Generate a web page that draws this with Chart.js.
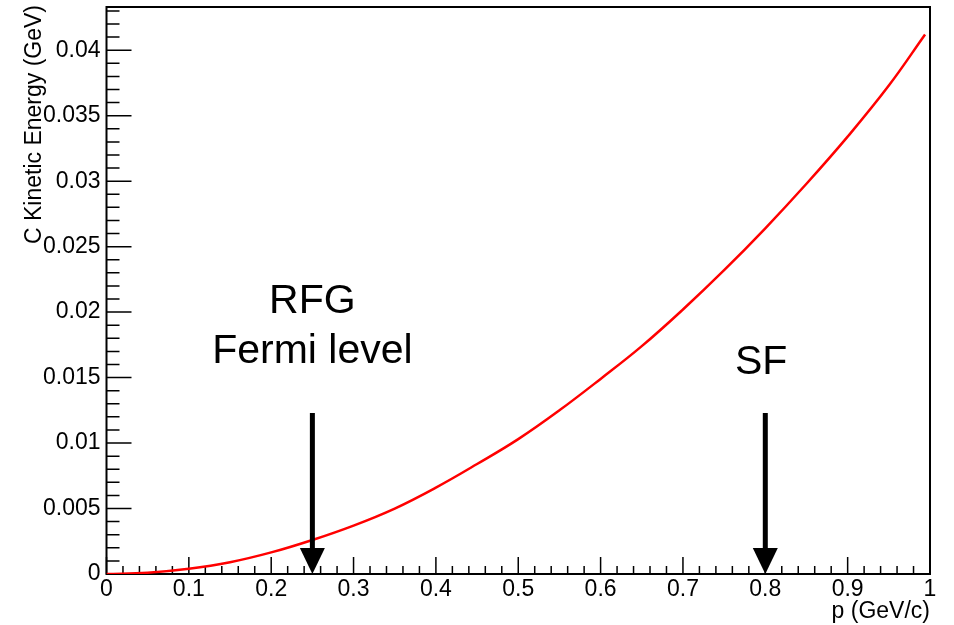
<!DOCTYPE html>
<html>
<head>
<meta charset="utf-8">
<script src="https://cdn.jsdelivr.net/npm/chart.js@4/dist/chart.umd.min.js"></script>
<style>
  html, body { margin: 0; padding: 0; background: #fff; }
  #wrap { width: 954px; height: 625px; }
</style>
</head>
<body>
<div id="wrap"><canvas id="keChart" width="954" height="625"></canvas></div>
<script>
// momentum p (GeV/c) and C kinetic energy (GeV)
var momentum = [0, 0.05, 0.1, 0.15, 0.2, 0.25, 0.3, 0.35, 0.4, 0.45, 0.5,
                0.55, 0.6, 0.65, 0.7, 0.75, 0.8, 0.85, 0.9, 0.95, 0.994];
var kineticEnergy = [0, 0.0001, 0.0004, 0.0009, 0.00165, 0.0026, 0.0037, 0.0050, 0.0066, 0.0084, 0.0103,
                     0.0125, 0.0149, 0.0174, 0.0202, 0.0232, 0.0264, 0.0298, 0.0334, 0.0373, 0.0412];

// arrows marking the two models
var arrowX = [0.25, 0.8];
var arrowTopY = 0.0123;
var arrowTipY = 0;

// annotation texts and their anchor (x centre, y baseline)
var noteTexts = ['RFG', 'Fermi level', 'SF'];
var noteX = [0.25, 0.25, 0.795];
var noteY = [0.0199, 0.0161, 0.0153];

var xTitle = 'p (GeV/c)';
var yTitle = 'C Kinetic Energy (GeV)';

var FONT = "'Liberation Sans', Arial, Helvetica, sans-serif";

function fmt(v) {
    if (Math.abs(v) < 1e-9) return '0';
    return String(parseFloat(v.toFixed(4)));
}

/**
 * ROOT style frame: inward ticks, box, arrows, labels and y title
 */
var rootFrame = {
    id: 'rootFrame',
    beforeDatasetsDraw: function(chart) {
        var ctx = chart.ctx, a = chart.chartArea;
        var x = chart.scales.x, y = chart.scales.y;
        ctx.save();
        ctx.strokeStyle = '#000';
        ctx.lineWidth = 1.5;
        ctx.beginPath();
        // x ticks every 0.02, major every 0.1
        for (var i = 0; i <= 50; i++) {
            var px = x.getPixelForValue(i * 0.02);
            var len = (i % 5 === 0) ? 17 : 8;
            ctx.moveTo(px, a.bottom);
            ctx.lineTo(px, a.bottom - len);
        }
        // y ticks every 0.001, major every 0.005
        for (var j = 0; j * 0.001 <= y.max + 1e-9; j++) {
            var py = y.getPixelForValue(j * 0.001);
            var l = (j % 5 === 0) ? 25 : 13;
            ctx.moveTo(a.left, py);
            ctx.lineTo(a.left + l, py);
        }
        ctx.stroke();
        ctx.lineWidth = 2;
        ctx.strokeRect(a.left, a.top, a.right - a.left, a.bottom - a.top);

        // y axis title, top aligned like ROOT
        ctx.font = '23px ' + FONT;
        ctx.fillStyle = '#000';
        ctx.translate(35, a.top - 2);
        ctx.rotate(-Math.PI / 2);
        ctx.textAlign = 'right';
        ctx.textBaseline = 'middle';
        ctx.fillText(yTitle, 0, 0);
        ctx.restore();
    },
    afterDatasetsDraw: function(chart) {
        var ctx = chart.ctx;
        var x = chart.scales.x, y = chart.scales.y;
        ctx.save();
        ctx.fillStyle = '#000';
        ctx.strokeStyle = '#000';
        arrowX.forEach(function(v) {
            var px = x.getPixelForValue(v);
            var top = y.getPixelForValue(arrowTopY);
            var tip = y.getPixelForValue(arrowTipY);
            ctx.lineWidth = 5;
            ctx.beginPath();
            ctx.moveTo(px, top);
            ctx.lineTo(px, tip - 20);
            ctx.stroke();
            ctx.beginPath();
            ctx.moveTo(px, tip);
            ctx.lineTo(px - 12.5, tip - 26);
            ctx.lineTo(px + 12.5, tip - 26);
            ctx.closePath();
            ctx.fill();
        });
        ctx.font = '41px ' + FONT;
        ctx.textAlign = 'center';
        ctx.textBaseline = 'alphabetic';
        noteTexts.forEach(function(t, k) {
            ctx.fillText(t, x.getPixelForValue(noteX[k]), y.getPixelForValue(noteY[k]));
        });
        ctx.restore();
    }
};

var labelFont = { family: FONT, size: 23 };

new Chart(document.getElementById('keChart'), {
    type: 'line',
    data: {
        datasets: [{
            data: momentum.map(function(p, i) { return { x: p, y: kineticEnergy[i] }; }),
            borderColor: 'rgb(255, 0, 0)',
            borderWidth: 2.5,
            pointRadius: 0,
            tension: 0.4,
            fill: false
        }]
    },
    options: {
        responsive: false,
        animation: false,
        layout: { padding: { top: 7, right: 24, bottom: 0, left: 0 } },
        plugins: {
            legend: { display: false },
            tooltip: { enabled: false }
        },
        scales: {
            x: {
                type: 'linear',
                min: 0,
                max: 1,
                grid: { display: false, drawTicks: false },
                border: { display: false },
                ticks: {
                    stepSize: 0.1,
                    includeBounds: false,
                    maxRotation: 0,
                    autoSkip: false,
                    padding: 2,
                    color: '#000',
                    font: labelFont,
                    callback: function(v) { return fmt(v); }
                },
                title: {
                    display: true,
                    text: xTitle,
                    align: 'end',
                    color: '#000',
                    font: labelFont,
                    padding: { top: 0, bottom: 0 }
                },
                afterFit: function(s) {
                    s.height = 51;
                    s.paddingLeft = 0;
                    s.paddingRight = 0;
                }
            },
            y: {
                type: 'linear',
                min: 0,
                max: 0.0433,
                grid: { display: false, drawTicks: false },
                border: { display: false },
                ticks: {
                    stepSize: 0.005,
                    includeBounds: false,
                    autoSkip: false,
                    padding: 6,
                    color: '#000',
                    font: labelFont,
                    callback: function(v) { return fmt(v); }
                },
                title: { display: false },
                afterFit: function(s) {
                    s.width = 106.5;
                    s.paddingTop = 0;
                    s.paddingBottom = 0;
                }
            }
        }
    },
    plugins: [rootFrame]
});
</script>
</body>
</html>
